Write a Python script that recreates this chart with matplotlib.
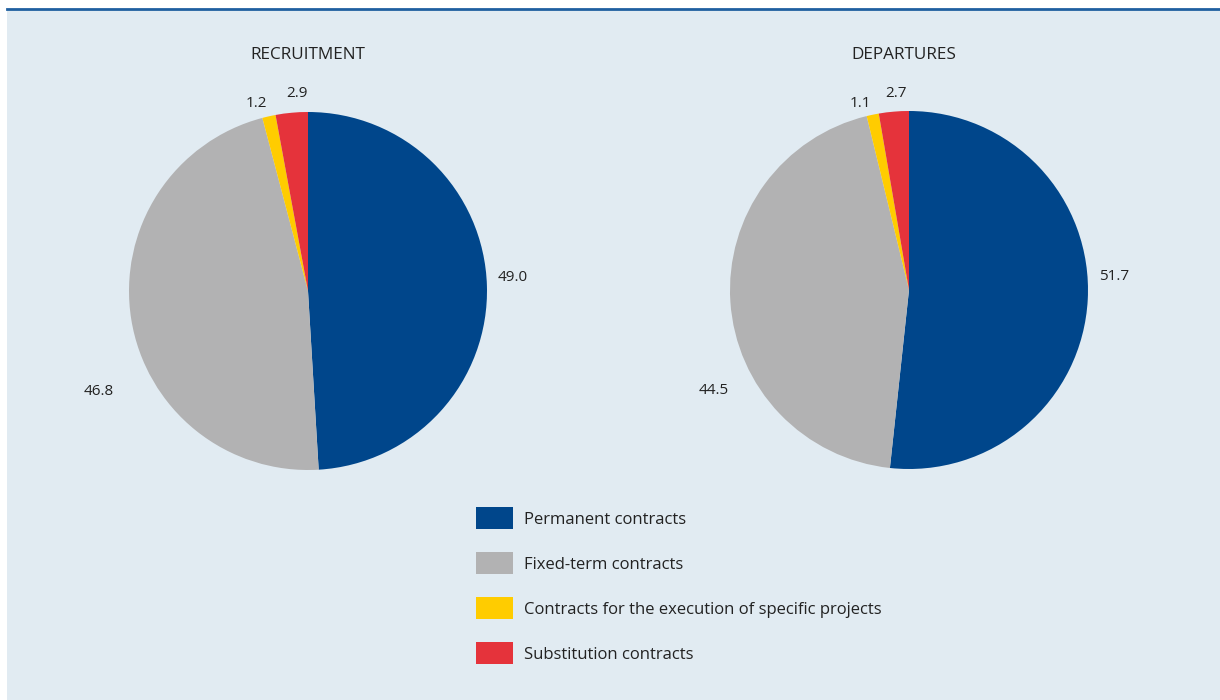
import matplotlib.pyplot as plt
from matplotlib.patches import Rectangle
from matplotlib.lines import Line2D

plt.rcParams['font.family'] = ['Open Sans', 'DejaVu Sans']

categories = ['Permanent contracts', 'Fixed-term contracts',
              'Contracts for the execution of specific projects',
              'Substitution contracts']
recruitment = [49.0, 46.8, 1.2, 2.9]
departures = [51.7, 44.5, 1.1, 2.7]
titles = ['RECRUITMENT', 'DEPARTURES']

colors = ['#00468b', '#b2b2b3', '#ffcc00', '#e5333b']
bg = '#e1ebf2'

# label offsets in pie-radius units (where the original puts the numbers)
label_pos = [
    [(1.145, 0.078), (-1.17, -0.56), (-0.29, 1.045), (-0.06, 1.105)],
    [(1.145, 0.073), (-1.09, -0.56), (-0.27, 1.04), (-0.07, 1.10)],
]

W, H = 1220, 700
fig = plt.figure(figsize=(W / 100, H / 100), dpi=100)
fig.patch.set_facecolor('white')

# background panel and top rule
fig.patches.append(Rectangle((7 / W, 0), 1 - 7 / W, 1 - 9 / H, transform=fig.transFigure,
                             facecolor=bg, edgecolor='none', zorder=-5))
fig.lines.append(Line2D([7 / W, 1], [1 - 8.5 / H, 1 - 8.5 / H], transform=fig.transFigure,
                        color='#1f5fa0', linewidth=2, zorder=-4))

centers = [(308, 291), (909, 290)]
r = 179
for i, vals in enumerate([recruitment, departures]):
    cx, cy = centers[i]
    ax = fig.add_axes([(cx - r) / W, (H - cy - r) / H, 2 * r / W, 2 * r / H])
    ax.set_zorder(3)
    ax.pie(vals, colors=colors, startangle=90, counterclock=False,
           wedgeprops=dict(linewidth=0))
    ax.set_xlim(-1, 1)
    ax.set_ylim(-1, 1)
    ax.set_aspect('equal')
    ax.axis('off')
    for v, (lx, ly) in zip(vals, label_pos[i]):
        ax.text(lx, ly, f'{v:.1f}', ha='center', va='center', fontsize=11,
                color='#222222', clip_on=False)
    fig.text(cx / W + (0.0 if i == 0 else -5 / W), 1 - 55 / H, titles[i],
             ha='center', va='center', fontsize=12.3, color='#222222')

# legend
for j, name in enumerate(categories):
    yc = 518 + j * 45
    fig.patches.append(Rectangle((476 / W, (H - yc - 11) / H), 37 / W, 22 / H,
                                 transform=fig.transFigure, facecolor=colors[j],
                                 edgecolor='none', zorder=2))
    fig.text(524 / W, 1 - (yc + 2) / H, name, ha='left', va='center', fontsize=12,
             color='#222222')

fig.savefig('out.png', dpi=100, facecolor=fig.get_facecolor())
